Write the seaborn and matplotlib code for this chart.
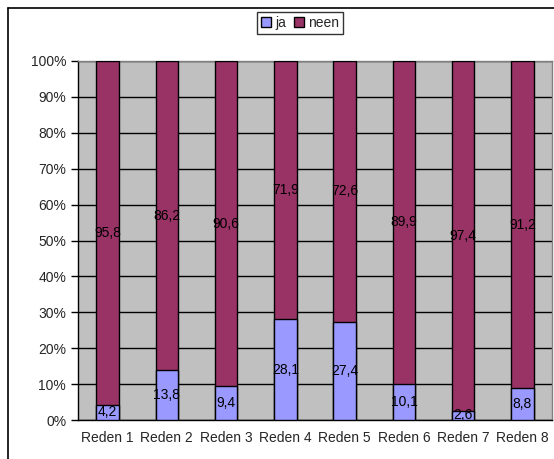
import matplotlib
matplotlib.use("Agg")
import matplotlib.pyplot as plt
import seaborn as sns
import pandas as pd
from matplotlib.lines import Line2D
from matplotlib.patches import Patch
from matplotlib.ticker import FuncFormatter, MultipleLocator

# --- data ---
categories = ["Reden 1", "Reden 2", "Reden 3", "Reden 4", "Reden 5", "Reden 6", "Reden 7", "Reden 8"]
ja = [4.2, 13.8, 9.4, 28.1, 27.4, 10.1, 2.6, 8.8]
neen = [95.8, 86.2, 90.6, 71.9, 72.6, 89.9, 97.4, 91.2]

JA_COLOR = "#9999FF"
NEEN_COLOR = "#993366"
BG = "#C0C0C0"

sns.set_style("white")
plt.rcParams["font.family"] = ["Liberation Sans", "DejaVu Sans"]

df = pd.DataFrame({"cat": categories, "ja": ja, "neen": neen})
df["total"] = df["ja"] + df["neen"]

fig = plt.figure(figsize=(5.54, 4.59), dpi=100)
ax = fig.add_axes([78 / 554, 1 - 420 / 459, 474 / 554, 359 / 459])
ax.set_facecolor(BG)

# stacked: draw full height in neen colour, ja on top of it from zero
sns.barplot(data=df, x="cat", y="total", color=NEEN_COLOR, width=0.38,
            edgecolor="black", linewidth=1, saturation=1, ax=ax, zorder=3)
sns.barplot(data=df, x="cat", y="ja", color=JA_COLOR, width=0.38,
            edgecolor="black", linewidth=1, saturation=1, ax=ax, zorder=4)

for i, (a, b) in enumerate(zip(ja, neen)):
    ax.text(i, a / 2, f"{a:.1f}".replace(".", ","), ha="center", va="center",
            fontsize=10, color="black", zorder=5)
    ax.text(i, a + b / 2, f"{b:.1f}".replace(".", ","), ha="center", va="center",
            fontsize=10, color="black", zorder=5)

ax.set_ylim(0, 100)
ax.set_xlim(-0.5, len(categories) - 0.5)
ax.yaxis.set_major_locator(MultipleLocator(10))
ax.yaxis.set_major_formatter(FuncFormatter(lambda v, p: f"{v:.0f}%"))
ax.grid(axis="y", color="black", linewidth=1, zorder=1)
ax.set_axisbelow(True)
ax.set_xlabel("")
ax.set_ylabel("")

# category boundary ticks on x
ax.set_xticks(range(len(categories)))
ax.set_xticklabels(categories)
ax.tick_params(axis="x", length=0, labelsize=10, pad=8)
ax.set_xticks([i - 0.5 for i in range(len(categories) + 1)], minor=True)
ax.tick_params(axis="x", which="minor", length=5, width=1, color="black", direction="out")
ax.tick_params(axis="y", length=5, width=1, color="black", direction="out", labelsize=10, left=True)

for side in ["top", "right"]:
    ax.spines[side].set_color("#808080")
    ax.spines[side].set_linewidth(1)
for side in ["left", "bottom"]:
    ax.spines[side].set_color("black")
    ax.spines[side].set_linewidth(1)

handles = [Patch(facecolor=JA_COLOR, edgecolor="black", label="ja"),
           Patch(facecolor=NEEN_COLOR, edgecolor="black", label="neen")]
fig.legend(handles=handles, loc="center", bbox_to_anchor=(300 / 554, 1 - 23 / 459),
           ncol=2, frameon=True, fancybox=False, edgecolor="black", fontsize=10,
           handlelength=0.7, handleheight=0.7, handletextpad=0.3, columnspacing=0.6,
           borderpad=0.3, borderaxespad=0)

# outer chart frame (only top and left edges visible in the crop)
fig.add_artist(Line2D([7.5 / 554, 1], [1 - 7.5 / 459, 1 - 7.5 / 459],
                      transform=fig.transFigure, color="black", linewidth=1.2))
fig.add_artist(Line2D([7.5 / 554, 7.5 / 554], [0, 1 - 7.5 / 459],
                      transform=fig.transFigure, color="black", linewidth=1.2))

fig.savefig("out.png", dpi=100)
